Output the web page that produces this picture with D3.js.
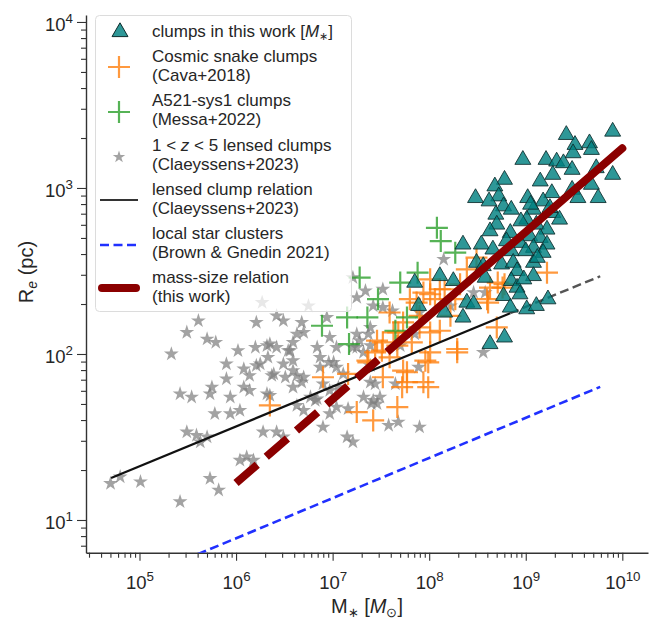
<!DOCTYPE html>
<html><head><meta charset="utf-8">
<script src="https://cdn.jsdelivr.net/npm/d3@7"></script>
<style>
body{margin:0;background:#fff}
svg{display:block}
text{font-family:"Liberation Sans",Arial,Helvetica,sans-serif;fill:#262626}
</style>
</head><body>
<svg id="chart" width="664" height="620"></svg>
<script>
// ---------------- data (log10 M* [Msun], log10 Re [pc]) ----------------
const clumpsThisWork = [
 [9.90,3.34],[9.42,3.32],[9.51,3.26],[9.66,3.27],[9.68,3.23],[9.49,3.21],[8.97,3.17],[9.21,3.17],[9.32,3.16],[9.39,3.15],
 [9.48,3.11],[9.73,3.12],[9.90,3.08],[9.28,3.08],[8.78,3.05],[8.68,3.01],[9.15,3.04],[9.68,3.02],[9.48,2.99],[9.27,2.97],
 [8.72,2.95],[8.48,2.94],[9.02,2.94],[9.54,2.94],[9.75,2.94],[9.18,2.92],[8.77,2.89],[8.85,2.87],[9.08,2.87],[9.28,2.85],
 [8.69,2.84],[9.01,2.81],[9.35,2.81],[8.70,2.78],[9.11,2.78],[9.22,2.75],[8.84,2.73],[9.04,2.71],[8.63,2.74],[9.15,2.70],
 [8.35,2.66],[8.54,2.66],[8.80,2.68],[8.94,2.67],[9.22,2.66],[8.66,2.63],[8.85,2.62],[9.08,2.64],[9.18,2.61],[8.49,2.55],
 [8.75,2.54],[8.87,2.55],[9.08,2.55],[8.56,2.53],[8.91,2.50],[9.08,2.47],[7.85,2.43],[8.11,2.47],[8.25,2.44],[8.58,2.46],
 [8.85,2.44],[8.91,2.40],[8.77,2.35],[8.94,2.36],[7.89,2.29],[8.39,2.31],[8.46,2.30],[8.84,2.28],[9.01,2.27],[9.11,2.29],
 [9.23,2.33],[8.16,2.25],[8.35,2.22],[8.63,2.06],[8.78,2.10],[8.95,2.80],[9.05,2.90],[9.12,2.58],[8.98,2.45],[9.00,2.62],
 [8.62,2.92],[9.25,2.88]
];
const cosmicSnake = [
 [6.35,1.69],[6.90,1.86],[7.16,1.88],[7.25,1.65],[7.42,1.60],[7.52,1.86],[7.67,1.68],[7.72,1.80],[7.77,1.89],[7.99,1.95],
 [7.99,1.80],[8.29,2.03],[7.44,2.01],[7.36,1.96],[7.52,2.07],[7.82,2.07],[7.46,2.08],[7.51,2.02],[7.59,1.98],[7.67,2.05],
 [7.73,1.90],[7.77,1.83],[7.94,1.83],[7.90,2.16],[7.73,2.19],[7.63,2.13],[7.94,2.37],[7.87,2.31],[7.96,1.96],[7.37,1.95],
 [8.01,2.36],[8.11,2.39],[8.06,2.33],[7.59,2.25],[7.68,2.13],[8.01,2.13],[8.11,2.14],[8.70,2.16],[8.29,2.01],[8.01,2.01],
 [8.49,2.58],[8.63,2.40],[8.71,2.43],[8.76,2.40],[8.60,2.33],[9.22,2.49],[8.78,2.42],[8.61,2.31],[8.27,2.33],[8.16,2.39],
 [8.32,2.42],[8.39,2.51],[8.01,2.45],[7.80,2.33],[7.90,2.23],[8.22,2.23]
];
const a521Clumps = [
 [8.08,2.76],[8.12,2.68],[8.27,2.61],[7.88,2.49],[7.70,2.43],[7.28,2.46],[7.47,2.33],[7.15,2.22],[7.36,2.22],[6.89,2.17],
 [7.17,2.06],[7.65,2.14],[7.77,2.22]
];
const lensedClumps = [
 [6.27,2.31],[5.61,2.20],[5.49,2.13],[5.70,2.09],[5.79,2.07],[5.33,2.00],[6.21,2.19],[6.42,2.23],[6.49,2.20],[6.68,2.19],
 [6.75,2.29],[6.70,2.13],[6.02,2.02],[6.20,2.04],[6.32,2.05],[6.42,2.04],[6.56,2.02],[6.59,1.96],[6.33,1.98],[5.90,1.94],
 [6.08,1.91],[6.21,1.93],[6.14,1.87],[6.37,1.87],[6.51,1.86],[6.63,1.87],[6.68,1.83],[5.90,1.85],[5.75,1.80],[5.73,1.76],
 [5.42,1.76],[5.54,1.74],[6.08,1.80],[6.32,1.76],[5.78,1.64],[5.94,1.64],[6.63,1.69],[6.70,1.66],[6.84,1.73],[6.90,1.56],
 [6.28,1.53],[5.49,1.53],[5.59,1.51],[5.70,1.50],[5.63,1.47],[6.42,1.53],[6.49,1.50],[6.11,1.38],[6.04,1.36],[6.18,1.36],
 [5.73,1.25],[5.82,1.18],[5.42,1.11],[5.01,1.23],[4.70,1.22],[4.80,1.26],[7.15,1.50],[7.21,1.47],[6.90,1.82],[7.06,1.80],
 [7.11,1.88],[6.87,1.98],[7.01,1.95],[7.25,2.34],[7.21,2.04],[7.39,1.93],[7.44,1.82],[7.32,1.74],[7.46,1.70],[7.04,1.68],
 [6.97,1.64],[7.52,2.28],[7.39,2.16],[6.97,2.10],[6.84,2.04],[6.63,2.12],[5.94,1.74],[6.04,1.66],[6.94,2.22],[7.21,2.46],
 [7.34,2.38],[7.52,2.39],[7.42,2.29],[7.04,2.04],[6.96,1.95],[6.59,2.07],[6.35,2.06],[6.54,2.02],[6.49,1.94],[6.25,1.94],
 [6.39,1.88],[6.59,1.90],[6.70,1.86],[6.87,1.92],[7.04,1.92],[7.28,2.08],[7.37,2.12],[6.97,1.78],[7.42,1.72],[7.49,1.74],
 [6.77,1.74],[6.59,1.80],[6.14,1.78],[6.35,1.75],[7.25,2.04],[7.32,2.01],[6.82,1.72],[7.16,1.67],[7.39,1.83],[7.65,1.82],
 [7.40,1.70],[7.58,1.57],[7.68,1.59],[7.90,1.56],[7.89,1.92],[8.15,2.57],[7.25,2.12],[7.39,2.05],[7.90,2.25],[8.46,2.37],
 [8.22,2.29],[8.56,2.01],[8.58,2.37],[7.62,2.26],[7.70,2.05],[7.85,2.12]
];
// relations: [M*, Re]
const lensedRelationSolid  = [[5.08e4, 17.9], [6.9e8, 176]];
const lensedRelationDashed = [[6.9e8, 176], [5.9e9, 294]];
const localClusters        = [[5.0e4, 3.76], [5.9e9, 63.4]];
const massSizeDashed       = [[1.0e6, 16.7], [6.0e7, 132]];
const massSizeSolid        = [[6.0e7, 132], [1.0e10, 1734]];

const xTickExponents = [5, 6, 7, 8, 9, 10];
const yTickExponents = [1, 2, 3, 4];

const legendEntries = [
  ["clumps in this work [M*]"],
  ["Cosmic snake clumps", "(Cava+2018)"],
  ["A521-sys1 clumps", "(Messa+2022)"],
  ["1 < z < 5 lensed clumps", "(Claeyssens+2023)"],
  ["lensed clump relation", "(Claeyssens+2023)"],
  ["local star clusters", "(Brown & Gnedin 2021)"],
  ["mass-size relation", "(this work)"]
];

// ---------------- layout ----------------
const L = 86, R = 648, T = 15, B = 552.7;
const svg = d3.select('#chart');
const x = d3.scaleLog().domain([Math.pow(10, 4.446), Math.pow(10, 10.266)]).range([L, R]);
const y = d3.scaleLog().domain([Math.pow(10, 0.803), Math.pow(10, 4.042)]).range([B, T]);

const ORANGE = '#ff7f0e', GREEN = '#2ca02c', TEAL = '#008080';

svg.append('defs').append('clipPath').attr('id', 'clip')
  .append('rect').attr('x', L).attr('y', T).attr('width', R - L).attr('height', B - T);

// ---------------- axes ----------------
function minorTicks(lo, hi) {
  const out = [];
  for (let e = Math.floor(Math.log10(lo)); e <= Math.ceil(Math.log10(hi)); e++)
    for (let m = 2; m <= 9; m++) { const v = m * Math.pow(10, e); if (v >= lo && v <= hi) out.push(v); }
  return out;
}
function supLabel(sel) {
  sel.each(function (d) {
    const t = d3.select(this);
    const e = Math.round(Math.log10(d));
    t.text(null);
    t.append('tspan').text('10');
    t.append('tspan').attr('dy', '-0.62em').attr('font-size', '0.72em').text(e);
  });
}
const axisColor = '#333';
const gx = svg.append('g').attr('transform', `translate(0,${B})`);
gx.call(d3.axisBottom(x).tickValues(minorTicks(...x.domain())).tickSize(5).tickSizeOuter(0).tickFormat(''));
gx.select('.domain').remove();
const gx2 = svg.append('g').attr('transform', `translate(0,${B})`)
  .call(d3.axisBottom(x).tickValues(xTickExponents.map(e => Math.pow(10, e))).tickSize(8).tickSizeOuter(0).tickPadding(15));
gx2.selectAll('text').attr('font-size', 18.5).attr('font-family', '"Liberation Sans",Arial,sans-serif').call(supLabel);

const gy = svg.append('g').attr('transform', `translate(${L},0)`);
gy.call(d3.axisLeft(y).tickValues(minorTicks(...y.domain())).tickSize(5).tickSizeOuter(0).tickFormat(''));
gy.select('.domain').remove();
const gy2 = svg.append('g').attr('transform', `translate(${L},0)`)
  .call(d3.axisLeft(y).tickValues(yTickExponents.map(e => Math.pow(10, e))).tickSize(9).tickSizeOuter(0).tickPadding(4));
gy2.selectAll('text').attr('font-size', 18.5).attr('font-family', '"Liberation Sans",Arial,sans-serif').attr('dy', '0.45em').call(supLabel);

svg.selectAll('.tick line').attr('stroke', axisColor).attr('stroke-width', 1.1);
svg.selectAll('.domain').attr('stroke', axisColor).attr('stroke-width', 1.4);
svg.selectAll('.tick text').attr('fill', '#262626');

// axis titles
const xt = svg.append('text').attr('x', (L + R) / 2).attr('y', 613).attr('text-anchor', 'middle').attr('font-size', 20);
xt.append('tspan').text('M');
xt.append('tspan').attr('dy', 4).attr('font-size', 13).text('\u2217');
xt.append('tspan').attr('dy', -4).text(' [');
xt.append('tspan').attr('font-style', 'italic').text('M');
xt.append('tspan').attr('dy', 4).attr('font-size', 13).text('\u2299');
xt.append('tspan').attr('dy', -4).text(']');

const yt = svg.append('text').attr('transform', `translate(33,272) rotate(-90)`).attr('text-anchor', 'middle').attr('font-size', 20);
yt.append('tspan').text('R');
yt.append('tspan').attr('dy', 4).attr('font-size', 14).attr('font-style', 'italic').text('e');
yt.append('tspan').attr('dy', -4).text(' (pc)');

// ---------------- marks ----------------
const plot = svg.append('g').attr('clip-path', 'url(#clip)');
const pos = d => `translate(${x(Math.pow(10, d[0]))},${y(Math.pow(10, d[1]))})`;
const starPath = d3.symbol(d3.symbolStar, 68)();
const triPath = d3.symbol(d3.symbolTriangle, 110)();
const plusPath = 'M-11,0H11M0,-11V11';

plot.append('g').selectAll('path').data(lensedClumps).join('path')
  .attr('transform', pos).attr('d', starPath).attr('fill', '#808080').attr('fill-opacity', 0.72);
plot.append('g').selectAll('path').data(cosmicSnake).join('path')
  .attr('transform', pos).attr('d', plusPath).attr('stroke', ORANGE).attr('stroke-opacity', 0.8).attr('stroke-width', 2.2).attr('fill', 'none');
plot.append('g').selectAll('path').data(a521Clumps).join('path')
  .attr('transform', pos).attr('d', plusPath).attr('stroke', GREEN).attr('stroke-opacity', 0.8).attr('stroke-width', 2.2).attr('fill', 'none');

const line = d3.line().x(d => x(d[0])).y(d => y(d[1]));
plot.append('path').datum(lensedRelationSolid).attr('d', line).attr('stroke', '#111').attr('stroke-width', 2.2).attr('fill', 'none');
plot.append('path').datum(lensedRelationDashed).attr('d', line).attr('stroke', '#555').attr('stroke-width', 2.4).attr('stroke-dasharray', '9,4.5').attr('fill', 'none');
plot.append('path').datum(localClusters).attr('d', line).attr('stroke', '#2030ff').attr('stroke-width', 2.6).attr('stroke-dasharray', '9,4.5').attr('fill', 'none');

plot.append('g').selectAll('path').data(clumpsThisWork).join('path')
  .attr('transform', pos).attr('d', triPath).attr('fill', TEAL).attr('fill-opacity', 0.82)
  .attr('stroke', '#0d2b2b').attr('stroke-opacity', 0.85).attr('stroke-width', 1);

plot.append('path').datum(massSizeDashed).attr('d', line).attr('stroke', '#8b0000').attr('stroke-width', 8).attr('stroke-dasharray', '28,12').attr('fill', 'none');
plot.append('path').datum(massSizeSolid).attr('d', line).attr('stroke', '#8b0000').attr('stroke-width', 8).attr('stroke-linecap', 'round').attr('fill', 'none');

// ---------------- legend ----------------
const lg = svg.append('g');
lg.append('rect').attr('x', 95.5).attr('y', 15.5).attr('width', 256).attr('height', 296).attr('rx', 4)
  .attr('fill', '#fff').attr('fill-opacity', 0.75).attr('stroke', '#dcdcdc').attr('stroke-width', 1);
const base = [37, 62, 106, 151, 195, 239, 283];
const symY = [32, 67, 112, 157, 200, 245, 288];
legendEntries.forEach((lines, i) => {
  lines.forEach((s, j) => {
    const t = lg.append('text').attr('x', 152).attr('y', base[i] + j * 19).attr('font-size', 17);
    if (s.includes('[M*]')) {
      t.append('tspan').text(s.replace('[M*]', '['));
      t.append('tspan').attr('font-style', 'italic').text('M');
      t.append('tspan').attr('dy', 3).attr('font-size', 11).text('\u2217');
      t.append('tspan').attr('dy', -3).text(']');
    } else if (s.includes(' z ')) {
      const [a, b] = s.split(' z ');
      t.append('tspan').text(a + ' ');
      t.append('tspan').attr('font-style', 'italic').text('z');
      t.append('tspan').text(' ' + b);
    } else t.text(s);
  });
});
lg.append('path').attr('transform', `translate(120,${symY[0]})`).attr('d', triPath).attr('fill', TEAL).attr('fill-opacity', 0.82).attr('stroke', '#0d2b2b').attr('stroke-width', 1);
lg.append('path').attr('transform', `translate(119,${symY[1]})`).attr('d', plusPath).attr('stroke', ORANGE).attr('stroke-opacity', 0.8).attr('stroke-width', 2.2);
lg.append('path').attr('transform', `translate(119,${symY[2]})`).attr('d', plusPath).attr('stroke', GREEN).attr('stroke-opacity', 0.8).attr('stroke-width', 2.2);
lg.append('path').attr('transform', `translate(119,${symY[3]})`).attr('d', d3.symbol(d3.symbolStar, 48)()).attr('fill', '#808080').attr('fill-opacity', 0.72);
lg.append('line').attr('x1', 100).attr('x2', 138).attr('y1', symY[4]).attr('y2', symY[4]).attr('stroke', '#333').attr('stroke-width', 2.2);
lg.append('line').attr('x1', 100).attr('x2', 138).attr('y1', symY[5]).attr('y2', symY[5]).attr('stroke', '#2030ff').attr('stroke-width', 2.6).attr('stroke-dasharray', '9,4.5');
lg.append('line').attr('x1', 102).attr('x2', 136).attr('y1', symY[6]).attr('y2', symY[6]).attr('stroke', '#8b0000').attr('stroke-width', 8).attr('stroke-linecap', 'round');
</script>
</body></html>
